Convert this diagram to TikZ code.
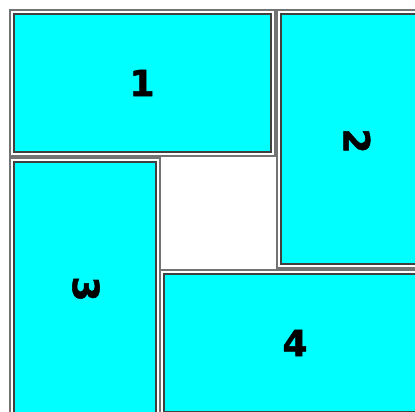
\documentclass[tikz,border=0pt]{standalone}
\usepackage{fontspec}
\setmainfont{DejaVu Sans}[BoldFeatures={FakeBold=1.5}]
\definecolor{tilecyan}{RGB}{0,255,255}
\begin{document}
\begin{tikzpicture}[x=1pt,y=-1pt,line width=1.3pt]
\tikzset{tilenum/.style={font=\fontsize{36}{36}\selectfont\bfseries,inner sep=0pt}}
\useasboundingbox (0,0) rectangle (415,412);
\clip (0,0) rectangle (415,412);
\foreach \xa/\ya/\xb/\yb in {9/9/276/157, 276/9/424/269, 9/157/161/421, 159/269/431/417} {
  \draw[black!55,fill=white] (\xa+1,\ya+1) rectangle (\xb-1,\yb-1);
  \draw[black!75,fill=tilecyan] (\xa+5,\ya+5) rectangle (\xb-5,\yb-5);
}
\node[tilenum] (one) at (142,83) {1};
\node[tilenum,rotate=-90] (two) at (357,141) {2};
\node[tilenum,rotate=-90] (three) at (86,289) {3};
\node[tilenum] (four) at (295,343) {4};
\end{tikzpicture}
\end{document}
